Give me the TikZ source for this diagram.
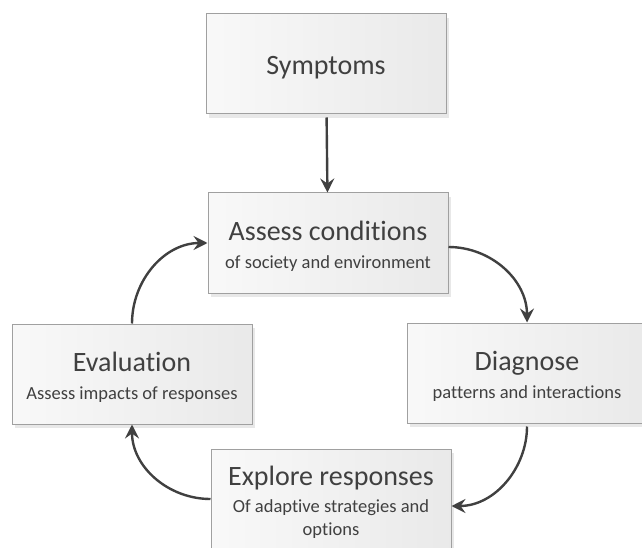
\documentclass[tikz,border=0pt]{standalone}
\usepackage{fontspec}
\setmainfont{Carlito}[Ligatures = NoCommon]
\usetikzlibrary{arrows.meta, shadows}
\definecolor{boxline}{HTML}{A0A0A0}
\definecolor{inkgray}{HTML}{404040}
\newcommand{\boxtitle}[1]{{\fontsize{28}{32}\selectfont\rule{0pt}{26pt}#1}}

\begin{document}
\begin{tikzpicture}[
			x = 1pt, y = -1pt,
			stage/.style = {draw = boxline, line width = 1pt, rectangle,
				minimum width = 240pt, minimum height = 100pt,
				left color = gray!5, right color = gray!17, text = inkgray, align = center,
				font = \fontsize{18.5}{27.5}\selectfont,
				drop shadow = {shadow xshift = 3pt, shadow yshift = -4pt, opacity = 0.18}},
			flow/.style = {draw = inkgray, line width = 2.4pt,
				-{Stealth[length = 14pt, width = 14pt, inset = 5pt]}}]
			\clip (0,0) rectangle (642,548);

			\node[stage] (symptoms) at (326,64) {\boxtitle{Symptoms}};
			\node[stage] (assess) at (328,243) {\boxtitle{Assess conditions}\\of society and environment};
			\node[stage] (diagnose) at (527,373) {\boxtitle{Diagnose}\\patterns and interactions};
			\node[stage] (explore) at (331,499) {\boxtitle{Explore responses}\\Of adaptive strategies and\\[-4.5pt]options};
			\node[stage] (evaluation) at (132,374) {\boxtitle{Evaluation}\\Assess impacts of responses};

			% Arrows
			\draw[flow, shorten < = 3pt] (symptoms) -- (assess);
			\draw[flow] ([yshift = -4pt]assess.east) to[out = 0, in = 90] (diagnose.north);
			\draw[flow, shorten < = 3pt] (diagnose.south) to[out = -90, in = 0] ([yshift = -7pt]explore.east);
			\draw[flow] (explore.west) to[out = 180, in = -90] (evaluation.south);
			\draw[flow] (evaluation.north) to[out = 90, in = 180] (assess.west);
		\end{tikzpicture}
\end{document}
